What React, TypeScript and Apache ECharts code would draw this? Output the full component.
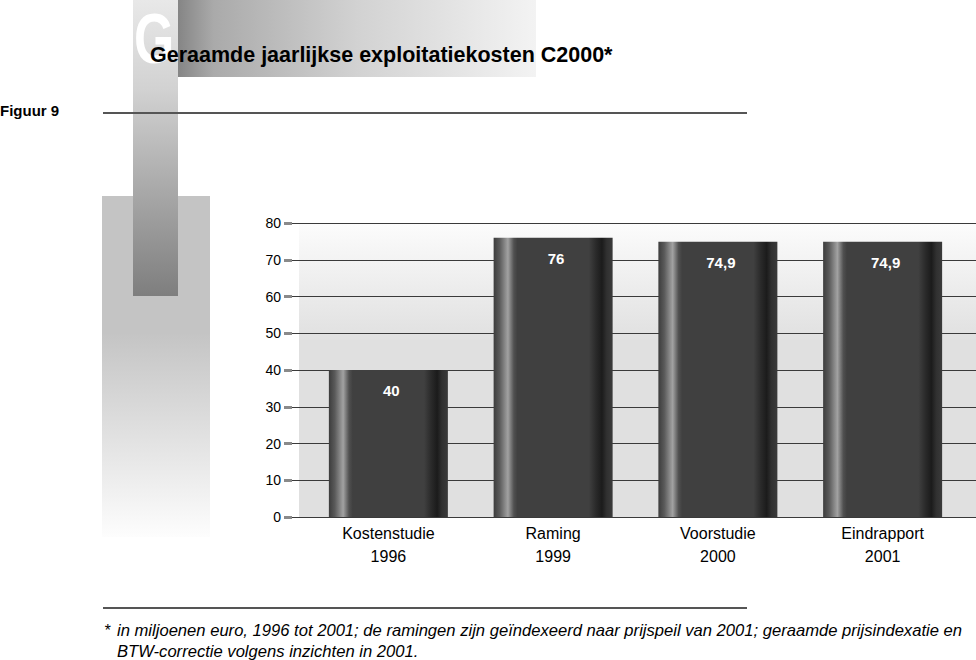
import React, { useEffect, useRef } from 'react';
import * as echarts from 'echarts';

const categories = ['Kostenstudie\n1996', 'Raming\n1999', 'Voorstudie\n2000', 'Eindrapport\n2001'];
const values = [40, 76, 74.9, 74.9];
const yMin = 0;
const yMax = 80;
const yInterval = 10;
const titleText = 'Geraamde jaarlijkse exploitatiekosten C2000*';
const figureText = 'Figuur 9';
const footnoteLine1 = 'in miljoenen euro, 1996 tot 2001; de ramingen zijn geïndexeerd naar prijspeil van 2001; geraamde prijsindexatie en';
const footnoteLine2 = 'BTW-correctie volgens inzichten in 2001.';

const FONT = '"Liberation Sans", Arial, sans-serif';

export default function App() {
  const ref = useRef<HTMLDivElement>(null);
  useEffect(() => {
    const chart = echarts.init(ref.current!, null, { renderer: 'svg' });
    const barGradient = new echarts.graphic.LinearGradient(0, 0, 1, 0, [
      { offset: 0, color: '#3c3c3c' },
      { offset: 0.05, color: '#5a5a5a' },
      { offset: 0.12, color: '#a2a2a2' },
      { offset: 0.17, color: '#505050' },
      { offset: 0.2, color: '#404040' },
      { offset: 0.8, color: '#404040' },
      { offset: 0.86, color: '#2a2a2a' },
      { offset: 0.91, color: '#1b1b1b' },
      { offset: 0.95, color: '#303030' },
      { offset: 1, color: '#3a3a3a' },
    ]);
    const option: any = {
      animation: false,
      backgroundColor: '#ffffff',
      grid: [
        { left: 306, right: 11, top: 223, bottom: 143 },
        { left: 292, right: 0, top: 223, bottom: 143 },
      ],
      xAxis: [
        {
          type: 'category',
          gridIndex: 0,
          data: categories,
          axisLine: { show: false },
          axisTick: { show: false },
          axisLabel: { color: '#000', fontSize: 16, lineHeight: 23, margin: 5, fontFamily: FONT },
        },
        { type: 'value', gridIndex: 1, show: false, min: 0, max: 1 },
      ],
      yAxis: [
        { type: 'value', gridIndex: 0, min: yMin, max: yMax, interval: yInterval, show: false },
        {
          type: 'value',
          gridIndex: 1,
          min: yMin,
          max: yMax,
          interval: yInterval,
          z: 3,
          axisLine: { show: false },
          axisTick: { show: true, length: 8, lineStyle: { color: '#8a8a8a', width: 3 } },
          axisLabel: { color: '#000', fontSize: 14, margin: 11, fontFamily: FONT },
          splitLine: { show: true, lineStyle: { color: '#3a3a3a', width: 1 } },
        },
      ],
      series: [
        {
          type: 'bar',
          xAxisIndex: 0,
          yAxisIndex: 0,
          data: values,
          barWidth: 119,
          z: 4,
          itemStyle: { color: barGradient },
          label: {
            show: true,
            position: 'insideTop',
            distance: 13,
            offset: [3, 0],
            color: '#fff',
            fontWeight: 'bold',
            fontSize: 15,
            fontFamily: FONT,
            formatter: (p: any) => String(p.value).replace('.', ','),
          },
        },
      ],
      graphic: [
        {
          type: 'rect',
          z: 1,
          shape: { x: 299, y: 223, width: 677, height: 294 },
          style: {
            fill: new echarts.graphic.LinearGradient(0, 0, 0, 1, [
              { offset: 0, color: '#fcfcfc' },
              { offset: 0.4, color: '#e0e0e0' },
              { offset: 1, color: '#e0e0e0' },
            ]),
          },
        },
        {
          type: 'rect',
          z: 1,
          shape: { x: 102, y: 196, width: 108, height: 341 },
          style: {
            fill: new echarts.graphic.LinearGradient(0, 0, 0, 1, [
              { offset: 0, color: '#c4c4c4' },
              { offset: 0.4, color: '#c4c4c4' },
              { offset: 1, color: '#fdfdfd' },
            ]),
          },
        },
        {
          type: 'rect',
          z: 2,
          shape: { x: 133, y: 0, width: 45, height: 296 },
          style: {
            fill: new echarts.graphic.LinearGradient(0, 0, 0, 1, [
              { offset: 0, color: '#e8e8e8' },
              { offset: 0.3, color: '#d2d2d2' },
              { offset: 1, color: '#7e7e7e' },
            ]),
          },
        },
        {
          type: 'text',
          z: 3,
          x: 134,
          y: 39,
          scaleX: 0.74,
          style: { text: 'G', fill: '#ffffff', fontSize: 70, lineHeight: 56, fontWeight: 'bold', fontFamily: FONT, verticalAlign: 'middle' },
        },
        {
          type: 'rect',
          z: 4,
          shape: { x: 178, y: 0, width: 358, height: 77 },
          style: {
            fill: new echarts.graphic.LinearGradient(0, 0, 1, 0, [
              { offset: 0, color: '#858585' },
              { offset: 0.1, color: '#aaaaaa' },
              { offset: 0.5, color: '#d2d2d2' },
              { offset: 1, color: '#f3f3f3' },
            ]),
          },
        },
        {
          type: 'line',
          z: 5,
          shape: { x1: 103, y1: 113, x2: 747, y2: 113 },
          style: { stroke: '#555', lineWidth: 2 },
        },
        {
          type: 'line',
          z: 5,
          shape: { x1: 103, y1: 608, x2: 747, y2: 608 },
          style: { stroke: '#555', lineWidth: 2 },
        },
        {
          type: 'text',
          z: 10,
          x: 150,
          y: 55,
          style: { text: titleText, fill: '#000', fontSize: 21.5, fontWeight: 'bold', fontFamily: FONT, verticalAlign: 'middle' },
        },
        {
          type: 'text',
          z: 10,
          x: 0,
          y: 110,
          style: { text: figureText, fill: '#000', fontSize: 15, fontWeight: 'bold', fontFamily: FONT, verticalAlign: 'middle' },
        },
        {
          type: 'text',
          z: 10,
          x: 104,
          y: 630,
          style: { text: '*', fill: '#000', fontSize: 16, fontStyle: 'italic', fontFamily: FONT, verticalAlign: 'middle' },
        },
        {
          type: 'text',
          z: 10,
          x: 117,
          y: 630,
          style: { text: footnoteLine1, fill: '#000', fontSize: 16.6, fontStyle: 'italic', fontFamily: FONT, verticalAlign: 'middle' },
        },
        {
          type: 'text',
          z: 10,
          x: 117,
          y: 651,
          style: { text: footnoteLine2, fill: '#000', fontSize: 16.6, fontStyle: 'italic', fontFamily: FONT, verticalAlign: 'middle' },
        },
      ],
    };
    chart.setOption(option);
    return () => chart.dispose();
  }, []);
  return (
    <div
      ref={ref}
      style={{ position: 'fixed', left: 0, top: 0, width: 976, height: 660, background: '#fff' }}
    />
  );
}
